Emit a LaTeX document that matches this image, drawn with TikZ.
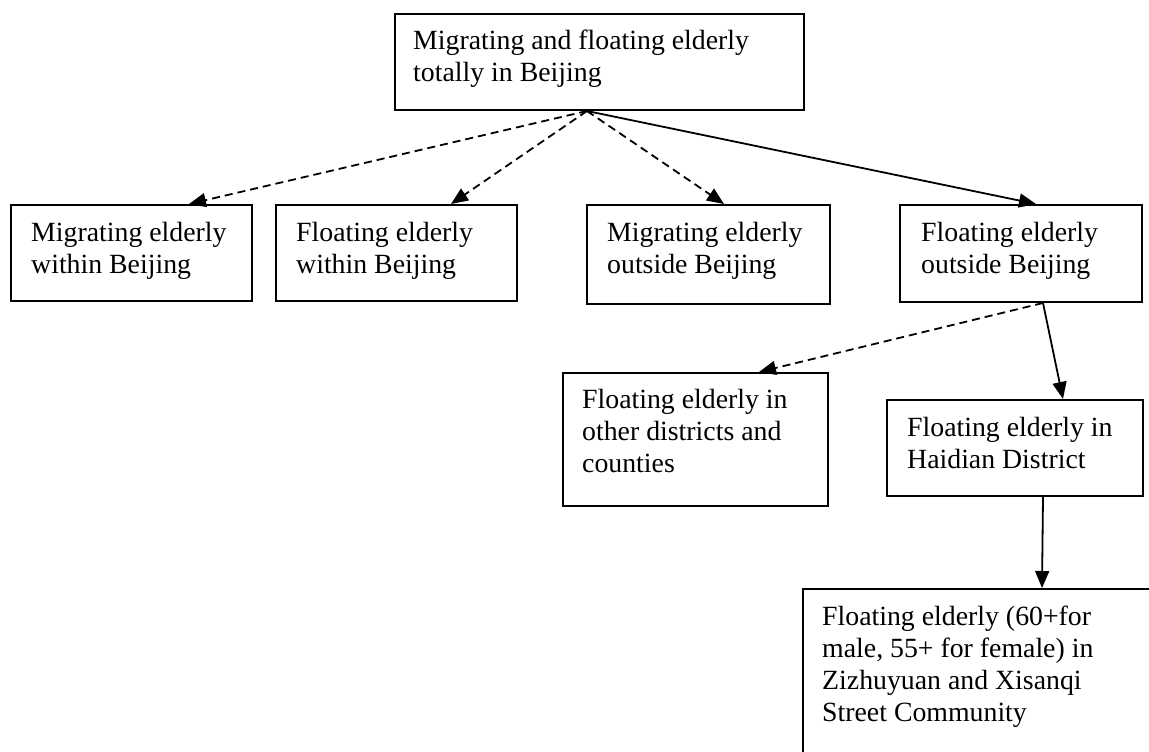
\documentclass[tikz,border=0pt]{standalone}
\usepackage{fontspec}
\setmainfont{Liberation Serif}
\usetikzlibrary{arrows.meta}
\begin{document}
\begin{tikzpicture}[x=1pt,y=-1pt,
  box/.style={draw, line width=2pt, inner sep=0pt, anchor=north west},
  txt/.style={inner sep=0pt, anchor=base west, font=\fontsize{27.8pt}{32pt}\selectfont},
  link/.style={line width=1.8pt, -{Triangle[length=17pt,width=14pt]}},
  dashlink/.style={link, dash pattern=on 8pt off 5pt}]
\clip (0,0) rectangle (1149,752);
% boxes
\node[box, minimum width=409pt, minimum height=96pt] (top) at (394,13) {};
\node[box, minimum width=241pt, minimum height=96pt] (b1) at (10,204) {};
\node[box, minimum width=241pt, minimum height=96pt] (b2) at (275,204) {};
\node[box, minimum width=243pt, minimum height=99pt] (b3) at (586,204) {};
\node[box, minimum width=242pt, minimum height=97pt] (b4) at (899,204) {};
\node[box, minimum width=265pt, minimum height=133pt] (oth) at (562,372) {};
\node[box, minimum width=256pt, minimum height=96pt] (hai) at (886,399) {};
\node[box, minimum width=420pt, minimum height=260pt] (fin) at (802,588) {};
% texts
\node[txt] (topt) at ([shift={(19pt,-37pt)}]top.north west) {\parbox[t]{380pt}{Migrating and floating elderly\\totally in Beijing}};
\node[txt] (b1t) at ([shift={(21pt,-37pt)}]b1.north west) {\parbox[t]{230pt}{Migrating elderly\\within Beijing}};
\node[txt] (b2t) at ([shift={(21pt,-37pt)}]b2.north west) {\parbox[t]{230pt}{Floating elderly\\within Beijing}};
\node[txt] (b3t) at ([shift={(21pt,-37pt)}]b3.north west) {\parbox[t]{230pt}{Migrating elderly\\outside Beijing}};
\node[txt] (b4t) at ([shift={(22pt,-37pt)}]b4.north west) {\parbox[t]{230pt}{Floating elderly\\outside Beijing}};
\node[txt] (otht) at ([shift={(20pt,-36pt)}]oth.north west) {\parbox[t]{250pt}{Floating elderly in\\other districts and\\counties}};
\node[txt] (hait) at ([shift={(21pt,-37pt)}]hai.north west) {\parbox[t]{240pt}{Floating elderly in\\Haidian District}};
\node[txt] (fint) at ([shift={(20pt,-37pt)}]fin.north west) {\parbox[t]{330pt}{Floating elderly (60+for\\male, 55+ for female) in\\Zizhuyuan and Xisanqi\\Street Community}};
% connector ends
\coordinate (topout) at ([xshift=-12.5pt]top.south);
\coordinate (b1in) at ([xshift=57.5pt]b1.north);
\coordinate (b2in) at ([xshift=54.5pt]b2.north);
\coordinate (b3in) at ([xshift=15.5pt]b3.north);
\coordinate (b4in) at ([xshift=15pt]b4.north);
\coordinate (b4out) at ([xshift=22pt]b4.south);
\coordinate (othin) at ([xshift=63.5pt]oth.north);
\coordinate (haiin) at ([xshift=48pt]hai.north);
\coordinate (haiout) at ([xshift=28pt]hai.south);
\coordinate (finin) at ([xshift=240pt]fin.north west);
% connectors
\draw[dashlink] (topout) -- (b1in);
\draw[dashlink] (topout) -- (b2in);
\draw[dashlink] (topout) -- (b3in);
\draw[link] (topout) -- (b4in);
\draw[dashlink] (b4out) -- (othin);
\draw[link] (b4out) -- (haiin);
\draw[link] (haiout) -- (finin);
\end{tikzpicture}
\end{document}
